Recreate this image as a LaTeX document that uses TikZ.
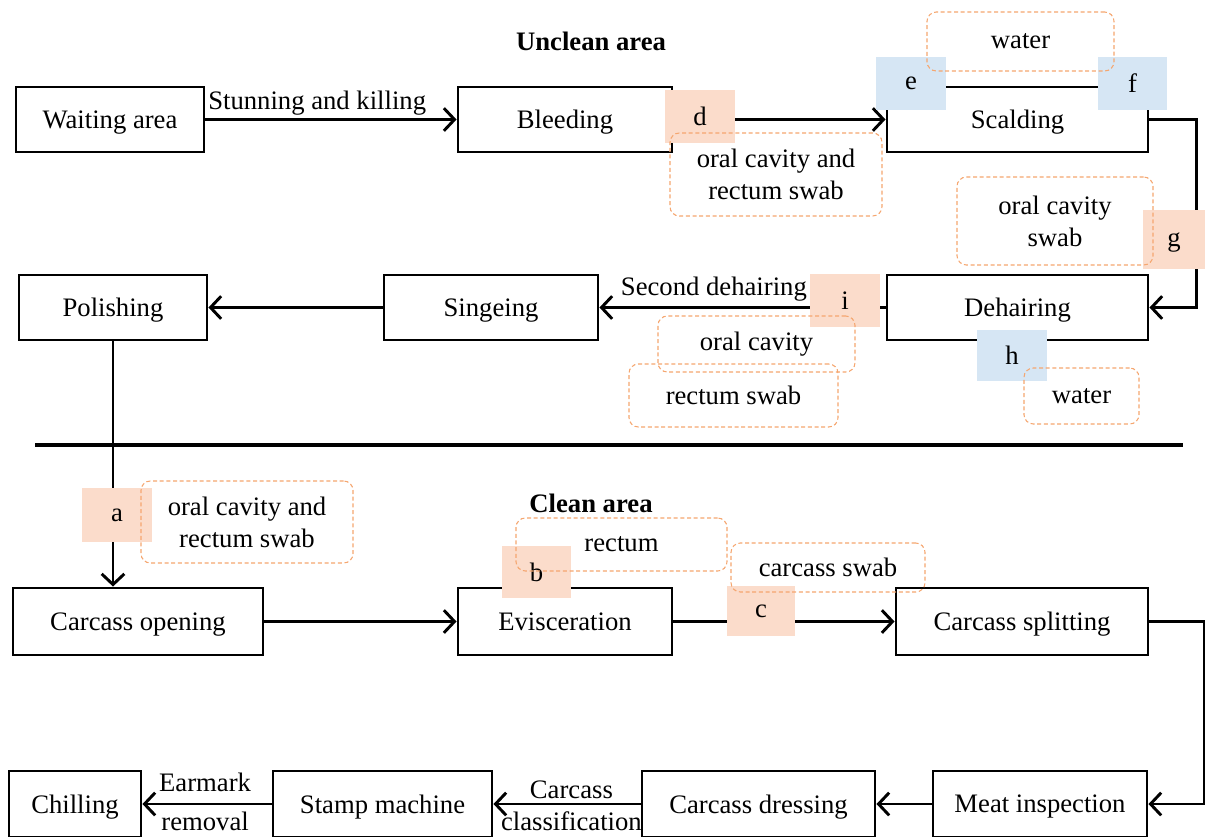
\documentclass[tikz,border=0pt]{standalone}
\usepackage{fontspec}
\setmainfont{Liberation Serif}
\usetikzlibrary{arrows.meta,calc}
\definecolor{salmon}{HTML}{FBDCCB}
\definecolor{skyb}{HTML}{D6E6F4}
\definecolor{dashor}{HTML}{F5A66F}
\begin{document}
\begin{tikzpicture}[x=0.75pt,y=-0.75pt, font=\fontsize{20}{24}\selectfont,
 spanbox/.style args={#1/#2/#3/#4}{minimum width={(#3-#1)*0.75pt}, minimum height={(#4-#2)*0.75pt}, at={({(#1+#3)/2},{(#2+#4)/2})}},
 proc/.style={draw=black, line width=2.2pt, inner sep=0pt, text depth=0pt, spanbox=#1},
 patchr/.style={fill=salmon, inner sep=0pt, text depth=0pt, spanbox=#1},
 patchb/.style={fill=skyb, inner sep=0pt, text depth=0pt, spanbox=#1},
 note/.style={draw=dashor, dash pattern=on 3pt off 2pt, line width=0.8pt, rounded corners=7pt, inner sep=0pt, align=center, spanbox=#1},
 flow/.style={line width=2.2pt, -{Straight Barb[length=8pt,width=17pt]}},
 area/.style={font=\fontsize{20}{24}\selectfont\bfseries}]
\useasboundingbox (0,0) rectangle (1205,836);

\node[area] (unclean) at (591,41) {Unclean area};
\node[area] (clean) at (591,503) {Clean area};

% process boxes
\node[proc={16/87/204/152}] (wait) {Waiting area};
\node[proc={458/87/672/152}] (bleed) {Bleeding};
\node[proc={887/87/1148/152}] (scald) {Scalding};
\node[proc={19/275/207/340}] (polish) {Polishing};
\node[proc={384/275/598/340}] (singe) {Singeing};
\node[proc={887/275/1148/340}] (dehair) {Dehairing};
\node[proc={13/588/263/655}] (copen) {Carcass opening};
\node[proc={458/588/672/655}] (evisc) {Evisceration};
\node[proc={896/588/1148/655}] (split) {Carcass splitting};
\node[proc={9/771/141/837}] (chill) {Chilling};
\node[proc={273/771/492/837}] (stamp) {Stamp machine};
\node[proc={642/771/875/837}] (dress) {Carcass dressing};
\node[proc={933/771/1147/837}] (meat) {Meat inspection};

% separator
\draw[line width=2.6pt] (35,445) -- (1183,445);

% connectors
\draw[flow] (wait) -- node[pos=0.445, yshift=12pt] {Stunning and killing} (bleed);
\draw[flow] (bleed) -- (scald);
\draw[flow] (scald.east) -- ++(47,0) |- (dehair.east);
\draw[flow] (dehair) -- node[pos=0.6, yshift=14pt] {Second dehairing} (singe);
\draw[flow] (singe) -- (polish);
\draw[flow] (polish.south) -- (polish.south |- copen.north);
\draw[flow] (copen) -- (evisc);
\draw[flow] (evisc) -- (split);
\draw[flow] (split.east) -- ++(55,0) |- (meat.east);
\draw[flow] (meat) -- (dress);
\draw[flow] (dress) -- node[pos=0.47, yshift=10.5pt] {Carcass} node[pos=0.47, yshift=-13pt] {classification} (stamp);
\draw[flow] (stamp) -- node[pos=0.515, yshift=16pt] {Earmark} node[pos=0.515, yshift=-13pt] {removal} (chill);

% sampling point patches
\node[patchr={665/90/735/143}] (pd) {d};
\node[patchb={876/57/946/110}] (pe) {e};
\node[patchb={1098/57/1167/110}] (pf) {f};
\node[patchr={1143/210/1205/269}] (pg) {g};
\node[patchb={977/330/1047/381}] (ph) {h};
\node[patchr={810/274/880/327}] (pi) {i};
\node[patchr={82/488/152/542}] (pa) {a};
\node[patchr={502/546/571/598}] (pb) {b};
\node[patchr={727/586/795/636}] (pc) {c};

% sample notes
\node[note={670/133/882/216}] (nd) {oral cavity and\\rectum swab};
\node[note={927/12/1114/71}] (nw) {water};
\node[note={957/177/1153/265}] (ng) {oral cavity\\swab};
\node[note={658/316/855/372}] (ni1) {oral cavity};
\node[note={629/364/838/427}] (ni2) {rectum swab};
\node[note={1024/368/1139/424}] (nh) {water};
\node[note={141/481/353/563}] (na) {oral cavity and\\rectum swab};
\node[note={516/518/727/571}] (nb) {rectum};
\node[note={731/543/925/592}] (nc) {carcass swab};
\end{tikzpicture}
\end{document}
